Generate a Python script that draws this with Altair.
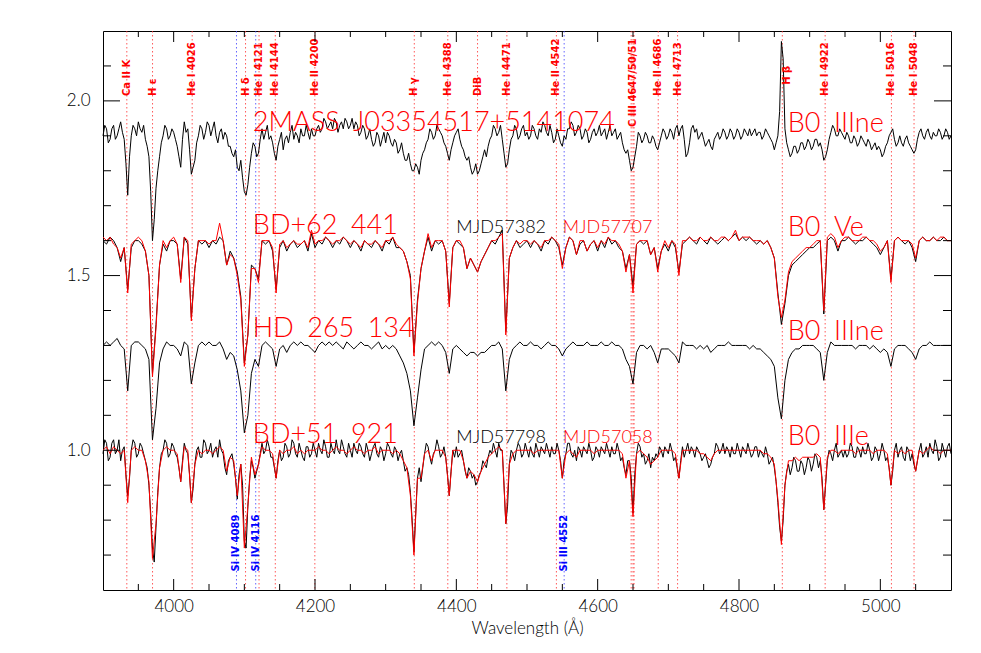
import altair as alt
import pandas as pd

# ---------------- data ----------------
wavelengths = list(range(3900, 5101, 5))
mid_wavelengths = [w + 2.5 for w in wavelengths[:-1]]

flux_2mass = [
 1.90, 1.92, 1.89, 1.93, 1.90, 1.94, 1.89, 1.73, 1.90, 1.92,  # 3900
 1.94, 1.91, 1.89, 1.84, 1.60, 1.75, 1.84, 1.90, 1.92, 1.90,  # 3950
 1.91, 1.87, 1.81, 1.94, 1.92, 1.79, 1.83, 1.90, 1.92, 1.91,  # 4000
 1.93, 1.92, 1.90, 1.91, 1.89, 1.90, 1.87, 1.84, 1.81, 1.83,  # 4050
 1.74, 1.76, 1.85, 1.87, 1.85, 1.92, 1.91, 1.89, 1.88, 1.83,  # 4100
 1.89, 1.86, 1.90, 1.91, 1.89, 1.90, 1.92, 1.90, 1.91, 1.92,  # 4150
 1.90, 1.93, 1.92, 1.94, 1.93, 1.92, 1.94, 1.93, 1.92, 1.94,  # 4200
 1.93, 1.92, 1.93, 1.91, 1.92, 1.90, 1.89, 1.88, 1.90, 1.89,  # 4250
 1.88, 1.90, 1.87, 1.88, 1.86, 1.85, 1.83, 1.82, 1.80, 1.81,  # 4300
 1.83, 1.86, 1.89, 1.91, 1.90, 1.92, 1.90, 1.87, 1.83, 1.88,  # 4350
 1.91, 1.89, 1.86, 1.83, 1.81, 1.80, 1.79, 1.82, 1.86, 1.87,  # 4400
 1.90, 1.92, 1.91, 1.89, 1.81, 1.86, 1.90, 1.92, 1.90, 1.93,  # 4450
 1.91, 1.90, 1.92, 1.89, 1.91, 1.93, 1.90, 1.91, 1.89, 1.90,  # 4500
 1.87, 1.89, 1.92, 1.93, 1.91, 1.92, 1.90, 1.91, 1.89, 1.92,  # 4550
 1.91, 1.90, 1.92, 1.91, 1.90, 1.92, 1.90, 1.88, 1.85, 1.83,  # 4600
 1.81, 1.87, 1.90, 1.89, 1.90, 1.88, 1.89, 1.86, 1.90, 1.91,  # 4650
 1.90, 1.91, 1.92, 1.90, 1.93, 1.84, 1.88, 1.93, 1.92, 1.90,  # 4700
 1.89, 1.88, 1.87, 1.89, 1.91, 1.90, 1.91, 1.90, 1.91, 1.90,  # 4750
 1.91, 1.90, 1.91, 1.92, 1.91, 1.90, 1.91, 1.90, 1.91, 1.89,  # 4800
 1.86, 1.90, 2.17, 1.92, 1.86, 1.85, 1.87, 1.86, 1.88, 1.87,  # 4850
 1.88, 1.87, 1.89, 1.88, 1.83, 1.86, 1.91, 1.92, 1.90, 1.91,  # 4900
 1.89, 1.90, 1.88, 1.89, 1.88, 1.89, 1.87, 1.88, 1.87, 1.86,  # 4950
 1.86, 1.85, 1.88, 1.91, 1.89, 1.88, 1.88, 1.89, 1.88, 1.86,  # 5000
 1.86, 1.91, 1.90, 1.91, 1.90, 1.91, 1.90, 1.91, 1.90, 1.91,  # 5050
 1.90,                                                        # 5100
]
# values read half-way between the samples above (noisy spectrum)
flux_2mass_mid = [
 1.93, 1.88, 1.92, 1.89, 1.92, 1.91, 1.82, 1.84, 1.93, 1.90,  # 3902.5
 1.92, 1.93, 1.87, 1.74, 1.66, 1.80, 1.88, 1.93, 1.89, 1.92,  # 3952.5
 1.89, 1.84, 1.89, 1.91, 1.86, 1.81, 1.88, 1.93, 1.89, 1.94,  # 4002.5
 1.90, 1.94, 1.88, 1.92, 1.91, 1.87, 1.85, 1.86, 1.80, 1.78,  # 4052.5
 1.73, 1.81, 1.88, 1.84, 1.89, 1.89, 1.93, 1.90, 1.85, 1.87,  # 4102.5
 1.91, 1.89, 1.88, 1.93, 1.91, 1.88, 1.90, 1.93, 1.89, 1.90,  # 4152.5
 1.92, 1.91, 1.95, 1.92, 1.94, 1.95, 1.91, 1.94, 1.95, 1.92,  # 4202.5
 1.95, 1.94, 1.90, 1.93, 1.89, 1.92, 1.87, 1.91, 1.87, 1.91,  # 4252.5
 1.91, 1.88, 1.89, 1.85, 1.88, 1.83, 1.85, 1.80, 1.82, 1.79,  # 4302.5
 1.85, 1.88, 1.92, 1.89, 1.93, 1.91, 1.88, 1.85, 1.86, 1.90,  # 4352.5
 1.92, 1.87, 1.84, 1.84, 1.79, 1.82, 1.80, 1.84, 1.84, 1.89,  # 4402.5
 1.93, 1.90, 1.93, 1.85, 1.82, 1.89, 1.93, 1.89, 1.92, 1.90,  # 4452.5
 1.89, 1.93, 1.90, 1.92, 1.94, 1.91, 1.93, 1.88, 1.92, 1.88,  # 4502.5
 1.90, 1.92, 1.94, 1.90, 1.93, 1.89, 1.92, 1.88, 1.91, 1.90,  # 4552.5
 1.93, 1.91, 1.89, 1.93, 1.91, 1.89, 1.91, 1.86, 1.86, 1.80,  # 4602.5
 1.84, 1.91, 1.88, 1.91, 1.88, 1.90, 1.87, 1.88, 1.92, 1.89,  # 4652.5
 1.92, 1.89, 1.93, 1.92, 1.89, 1.85, 1.92, 1.91, 1.89, 1.91,  # 4702.5
 1.87, 1.89, 1.86, 1.90, 1.89, 1.92, 1.89, 1.92, 1.89, 1.92,  # 4752.5
 1.89, 1.92, 1.90, 1.90, 1.92, 1.91, 1.89, 1.92, 1.90, 1.88,  # 4802.5
 1.88, 1.97, 2.12, 1.88, 1.84, 1.87, 1.85, 1.88, 1.86, 1.89,  # 4852.5
 1.86, 1.89, 1.87, 1.86, 1.84, 1.89, 1.93, 1.90, 1.92, 1.90,  # 4902.5
 1.91, 1.88, 1.90, 1.87, 1.90, 1.88, 1.89, 1.86, 1.88, 1.87,  # 4952.5
 1.84, 1.87, 1.90, 1.92, 1.87, 1.90, 1.87, 1.90, 1.87, 1.85,  # 5002.5
 1.89, 1.92, 1.89, 1.92, 1.89, 1.90, 1.92, 1.89, 1.92, 1.89,  # 5052.5
]

flux_bd62_mjd57382 = [
 1.60, 1.59, 1.61, 1.60, 1.58, 1.54, 1.58, 1.46, 1.58, 1.60,  # 3900
 1.60, 1.59, 1.57, 1.50, 1.22, 1.36, 1.53, 1.59, 1.57, 1.60,  # 3950
 1.60, 1.59, 1.49, 1.61, 1.59, 1.38, 1.52, 1.60, 1.59, 1.60,  # 4000
 1.58, 1.60, 1.59, 1.61, 1.60, 1.53, 1.57, 1.55, 1.51, 1.44,  # 4050
 1.25, 1.33, 1.53, 1.52, 1.49, 1.60, 1.59, 1.60, 1.57, 1.46,  # 4100
 1.58, 1.60, 1.57, 1.59, 1.60, 1.58, 1.59, 1.60, 1.57, 1.62,  # 4150
 1.58, 1.60, 1.59, 1.61, 1.60, 1.58, 1.60, 1.59, 1.61, 1.60,  # 4200
 1.58, 1.60, 1.59, 1.57, 1.60, 1.59, 1.58, 1.60, 1.59, 1.57,  # 4250
 1.60, 1.59, 1.61, 1.58, 1.58, 1.57, 1.54, 1.50, 1.28, 1.43,  # 4300
 1.52, 1.57, 1.61, 1.57, 1.60, 1.59, 1.60, 1.57, 1.42, 1.58,  # 4350
 1.60, 1.59, 1.58, 1.52, 1.55, 1.53, 1.51, 1.54, 1.56, 1.58,  # 4400
 1.60, 1.59, 1.61, 1.63, 1.34, 1.55, 1.58, 1.60, 1.58, 1.59,  # 4450
 1.60, 1.58, 1.60, 1.59, 1.57, 1.60, 1.59, 1.61, 1.60, 1.58,  # 4500
 1.53, 1.58, 1.61, 1.60, 1.56, 1.59, 1.60, 1.57, 1.59, 1.60,  # 4550
 1.57, 1.60, 1.58, 1.61, 1.59, 1.60, 1.58, 1.57, 1.52, 1.56,  # 4600
 1.47, 1.59, 1.60, 1.59, 1.60, 1.56, 1.58, 1.52, 1.57, 1.59,  # 4650
 1.57, 1.60, 1.58, 1.51, 1.59, 1.60, 1.61, 1.60, 1.59, 1.61,  # 4700
 1.60, 1.59, 1.61, 1.60, 1.59, 1.60, 1.61, 1.60, 1.61, 1.62,  # 4750
 1.60, 1.61, 1.60, 1.61, 1.60, 1.59, 1.60, 1.59, 1.60, 1.58,  # 4800
 1.55, 1.45, 1.36, 1.42, 1.50, 1.53, 1.54, 1.55, 1.56, 1.57,  # 4850
 1.58, 1.58, 1.59, 1.60, 1.39, 1.60, 1.61, 1.60, 1.57, 1.60,  # 4900
 1.60, 1.61, 1.60, 1.59, 1.60, 1.60, 1.61, 1.60, 1.59, 1.58,  # 4950
 1.56, 1.58, 1.60, 1.49, 1.60, 1.61, 1.60, 1.59, 1.60, 1.58,  # 5000
 1.54, 1.60, 1.61, 1.60, 1.60, 1.61, 1.60, 1.60, 1.61, 1.60,  # 5050
 1.60,                                                        # 5100
]

flux_bd62_mjd57707 = [
 1.61, 1.60, 1.61, 1.59, 1.58, 1.55, 1.58, 1.45, 1.59, 1.60,  # 3900
 1.61, 1.60, 1.57, 1.50, 1.21, 1.35, 1.53, 1.60, 1.58, 1.60,  # 3950
 1.61, 1.59, 1.48, 1.61, 1.60, 1.37, 1.52, 1.60, 1.60, 1.60,  # 4000
 1.59, 1.60, 1.60, 1.65, 1.60, 1.53, 1.56, 1.55, 1.50, 1.43,  # 4050
 1.24, 1.33, 1.52, 1.52, 1.48, 1.60, 1.60, 1.60, 1.58, 1.45,  # 4100
 1.59, 1.60, 1.58, 1.59, 1.60, 1.59, 1.59, 1.60, 1.58, 1.63,  # 4150
 1.59, 1.60, 1.60, 1.61, 1.60, 1.59, 1.60, 1.60, 1.61, 1.60,  # 4200
 1.59, 1.60, 1.59, 1.58, 1.60, 1.59, 1.59, 1.60, 1.59, 1.58,  # 4250
 1.60, 1.60, 1.61, 1.59, 1.58, 1.57, 1.54, 1.49, 1.27, 1.42,  # 4300
 1.52, 1.57, 1.62, 1.58, 1.60, 1.60, 1.60, 1.57, 1.41, 1.58,  # 4350
 1.60, 1.60, 1.58, 1.52, 1.55, 1.53, 1.51, 1.54, 1.56, 1.58,  # 4400
 1.60, 1.60, 1.61, 1.62, 1.33, 1.55, 1.58, 1.60, 1.59, 1.60,  # 4450
 1.60, 1.59, 1.60, 1.59, 1.58, 1.60, 1.60, 1.61, 1.60, 1.59,  # 4500
 1.52, 1.58, 1.61, 1.60, 1.56, 1.60, 1.60, 1.57, 1.59, 1.60,  # 4550
 1.58, 1.60, 1.59, 1.61, 1.60, 1.60, 1.59, 1.57, 1.51, 1.56,  # 4600
 1.45, 1.59, 1.60, 1.60, 1.60, 1.56, 1.58, 1.51, 1.57, 1.60,  # 4650
 1.58, 1.60, 1.59, 1.50, 1.60, 1.60, 1.61, 1.60, 1.60, 1.61,  # 4700
 1.60, 1.60, 1.61, 1.60, 1.60, 1.61, 1.61, 1.60, 1.61, 1.63,  # 4750
 1.60, 1.61, 1.61, 1.61, 1.60, 1.60, 1.60, 1.59, 1.60, 1.58,  # 4800
 1.55, 1.44, 1.38, 1.43, 1.51, 1.54, 1.55, 1.56, 1.57, 1.58,  # 4850
 1.58, 1.59, 1.60, 1.60, 1.40, 1.61, 1.62, 1.61, 1.58, 1.60,  # 4900
 1.61, 1.61, 1.60, 1.60, 1.60, 1.61, 1.61, 1.60, 1.60, 1.59,  # 4950
 1.57, 1.58, 1.60, 1.48, 1.60, 1.61, 1.60, 1.60, 1.60, 1.59,  # 5000
 1.55, 1.60, 1.61, 1.60, 1.60, 1.61, 1.60, 1.61, 1.61, 1.60,  # 5050
 1.60,                                                        # 5100
]

flux_hd265134 = [
 1.30, 1.31, 1.30, 1.31, 1.32, 1.30, 1.29, 1.17, 1.30, 1.31,  # 3900
 1.31, 1.30, 1.29, 1.26, 1.03, 1.12, 1.25, 1.29, 1.31, 1.30,  # 3950
 1.30, 1.29, 1.27, 1.31, 1.30, 1.19, 1.25, 1.30, 1.31, 1.30,  # 4000
 1.31, 1.30, 1.30, 1.31, 1.29, 1.26, 1.28, 1.27, 1.23, 1.17,  # 4050
 1.05, 1.10, 1.22, 1.26, 1.24, 1.30, 1.31, 1.30, 1.29, 1.24,  # 4100
 1.29, 1.30, 1.28, 1.30, 1.31, 1.30, 1.31, 1.30, 1.30, 1.29,  # 4150
 1.28, 1.30, 1.31, 1.30, 1.31, 1.30, 1.31, 1.30, 1.29, 1.31,  # 4200
 1.30, 1.29, 1.30, 1.31, 1.30, 1.30, 1.29, 1.30, 1.31, 1.29,  # 4250
 1.30, 1.29, 1.30, 1.29, 1.27, 1.25, 1.22, 1.17, 1.07, 1.15,  # 4300
 1.23, 1.29, 1.30, 1.31, 1.30, 1.31, 1.30, 1.28, 1.22, 1.29,  # 4350
 1.30, 1.29, 1.28, 1.27, 1.28, 1.28, 1.27, 1.28, 1.28, 1.29,  # 4400
 1.30, 1.30, 1.31, 1.29, 1.17, 1.26, 1.29, 1.30, 1.31, 1.30,  # 4450
 1.30, 1.31, 1.30, 1.30, 1.29, 1.30, 1.31, 1.30, 1.30, 1.29,  # 4500
 1.27, 1.29, 1.30, 1.31, 1.30, 1.30, 1.30, 1.31, 1.30, 1.30,  # 4550
 1.30, 1.31, 1.30, 1.30, 1.31, 1.30, 1.30, 1.29, 1.26, 1.24,  # 4600
 1.19, 1.28, 1.30, 1.30, 1.29, 1.30, 1.28, 1.25, 1.29, 1.29,  # 4650
 1.29, 1.28, 1.27, 1.25, 1.31, 1.30, 1.30, 1.30, 1.29, 1.30,  # 4700
 1.29, 1.30, 1.28, 1.29, 1.30, 1.30, 1.30, 1.31, 1.30, 1.30,  # 4750
 1.30, 1.30, 1.30, 1.29, 1.30, 1.29, 1.29, 1.28, 1.27, 1.26,  # 4800
 1.24, 1.15, 1.09, 1.20, 1.26, 1.28, 1.29, 1.29, 1.30, 1.30,  # 4850
 1.30, 1.30, 1.29, 1.28, 1.20, 1.28, 1.31, 1.30, 1.30, 1.30,  # 4900
 1.30, 1.30, 1.30, 1.29, 1.30, 1.30, 1.30, 1.29, 1.30, 1.29,  # 4950
 1.28, 1.29, 1.28, 1.24, 1.29, 1.30, 1.30, 1.30, 1.29, 1.28,  # 5000
 1.26, 1.29, 1.30, 1.30, 1.31, 1.30, 1.30, 1.30, 1.30, 1.30,  # 5050
 1.30,                                                        # 5100
]

flux_bd51_mjd57798 = [
 0.99, 1.02, 0.98, 1.03, 1.00, 0.97, 1.01, 0.87, 1.00, 1.02,  # 3900
 0.99, 1.01, 0.97, 0.90, 0.72, 0.78, 0.95, 1.00, 1.02, 0.99,  # 3950
 1.01, 0.98, 0.91, 1.02, 0.99, 0.85, 0.96, 1.01, 0.98, 1.02,  # 4000
 1.00, 0.98, 1.01, 1.03, 0.99, 0.93, 0.98, 0.96, 0.86, 0.96,  # 4050
 0.74, 0.84, 0.97, 0.92, 0.96, 1.02, 1.00, 1.01, 0.98, 0.92,  # 4100
 1.00, 0.98, 1.01, 0.99, 1.02, 0.98, 1.00, 0.97, 1.01, 0.99,  # 4150
 1.00, 1.02, 0.99, 1.01, 0.98, 1.00, 1.03, 0.99, 1.01, 0.98,  # 4200
 1.00, 1.02, 0.99, 1.01, 0.98, 1.00, 0.99, 1.02, 0.98, 1.00,  # 4250
 0.99, 1.01, 0.98, 1.00, 0.99, 0.97, 0.95, 0.88, 0.71, 0.92,  # 4300
 0.91, 0.99, 1.01, 0.96, 1.00, 1.01, 0.99, 0.98, 0.87, 1.00,  # 4350
 1.01, 0.99, 0.97, 0.92, 0.94, 0.93, 0.91, 0.94, 0.96, 0.98,  # 4400
 0.99, 1.00, 1.02, 1.00, 0.79, 0.96, 0.99, 1.00, 1.01, 0.99,  # 4450
 1.00, 1.01, 0.98, 1.00, 1.01, 0.99, 1.00, 1.01, 0.99, 1.00,  # 4500
 0.92, 0.99, 1.02, 0.98, 0.97, 1.00, 1.01, 0.99, 1.00, 0.98,  # 4550
 1.00, 1.01, 0.99, 1.00, 1.01, 0.99, 1.00, 0.98, 0.93, 0.97,  # 4600
 0.82, 0.99, 1.01, 0.99, 0.97, 0.95, 0.97, 0.98, 1.00, 1.01,  # 4650
 0.99, 1.00, 0.98, 0.92, 1.01, 1.00, 0.99, 1.00, 1.01, 0.99,  # 4700
 0.98, 0.97, 0.96, 0.99, 1.01, 1.00, 0.99, 1.00, 1.01, 0.99,  # 4750
 1.00, 1.01, 0.99, 1.00, 0.99, 1.01, 1.00, 0.98, 0.99, 0.97,  # 4800
 0.95, 0.85, 0.74, 0.90, 0.96, 0.95, 0.97, 0.94, 0.96, 0.95,  # 4850
 0.97, 0.96, 0.98, 0.97, 0.83, 0.97, 0.99, 1.00, 0.98, 1.00,  # 4900
 1.00, 0.99, 1.01, 0.98, 1.00, 1.01, 0.99, 1.00, 0.98, 1.00,  # 4950
 0.99, 1.00, 0.98, 0.90, 1.00, 0.98, 1.01, 0.97, 1.00, 0.99,  # 5000
 0.94, 1.00, 0.98, 1.01, 1.02, 0.99, 1.01, 0.98, 1.00, 1.01,  # 5050
 0.99,                                                        # 5100
]
flux_bd51_mjd57798_mid = [
 1.03, 0.97, 1.02, 0.99, 1.03, 1.00, 0.93, 0.92, 1.03, 0.98,  # 3902.5
 1.02, 0.99, 0.95, 0.82, 0.68, 0.88, 0.99, 1.03, 0.98, 1.02,  # 3952.5
 0.99, 0.95, 0.97, 1.00, 0.93, 0.89, 1.00, 0.98, 1.03, 0.99,  # 4002.5
 1.02, 1.00, 0.98, 1.00, 0.95, 0.97, 0.99, 0.92, 0.93, 0.90,  # 4052.5
 0.72, 0.92, 0.95, 0.94, 0.99, 0.99, 1.03, 0.98, 0.95, 0.97,  # 4102.5
 0.97, 1.02, 0.98, 1.03, 0.99, 1.02, 0.98, 1.01, 0.98, 1.02,  # 4152.5
 0.98, 1.00, 1.03, 0.98, 1.02, 0.99, 1.00, 1.03, 0.99, 1.02,  # 4202.5
 0.98, 1.00, 1.02, 0.99, 1.02, 0.97, 1.01, 0.99, 1.01, 0.97,  # 4252.5
 1.02, 0.99, 1.01, 0.97, 1.00, 0.94, 0.93, 0.80, 0.82, 0.95,  # 4302.5
 0.95, 1.02, 0.98, 0.99, 1.03, 0.98, 1.01, 0.93, 0.94, 0.98,  # 4352.5
 0.98, 1.00, 0.94, 0.95, 0.92, 0.90, 0.93, 0.97, 0.95, 1.00,  # 4402.5
 1.02, 0.98, 1.00, 0.90, 0.84, 1.00, 0.97, 1.02, 0.98, 1.02,  # 4452.5
 0.98, 0.99, 1.02, 0.98, 1.00, 1.02, 0.98, 0.99, 1.02, 0.97,  # 4502.5
 0.97, 1.02, 0.99, 1.00, 1.01, 0.98, 1.00, 1.02, 0.97, 1.01,  # 4552.5
 0.98, 1.00, 1.02, 0.98, 0.99, 1.02, 0.97, 0.95, 0.97, 0.92,  # 4602.5
 0.93, 1.02, 0.98, 0.96, 0.99, 0.98, 0.99, 1.01, 0.98, 1.00,  # 4652.5
 1.02, 0.97, 0.95, 0.97, 0.98, 1.02, 1.01, 0.98, 1.00, 0.97,  # 4702.5
 0.99, 0.95, 0.98, 1.02, 0.99, 1.02, 1.01, 0.98, 0.99, 1.02,  # 4752.5
 0.98, 1.00, 1.02, 0.98, 1.01, 0.98, 0.99, 1.01, 0.96, 0.98,  # 4802.5
 0.91, 0.78, 0.80, 0.94, 0.93, 0.98, 0.94, 0.97, 0.93, 0.98,  # 4852.5
 0.94, 0.99, 0.95, 0.92, 0.90, 1.00, 0.97, 1.02, 0.99, 0.98,  # 4902.5
 0.98, 1.02, 0.98, 1.01, 0.98, 0.99, 1.02, 0.97, 1.01, 0.97,  # 4952.5
 1.02, 0.97, 0.95, 0.94, 1.02, 1.00, 0.98, 1.01, 0.97, 0.96,  # 5002.5
 0.97, 1.02, 0.99, 0.98, 1.00, 1.03, 0.97, 1.02, 0.98, 1.02,  # 5052.5
]

flux_bd51_mjd57058 = [
 1.00, 1.01, 0.99, 1.01, 1.00, 0.99, 1.00, 0.85, 1.00, 1.01,  # 3900
 1.00, 1.00, 0.97, 0.91, 0.69, 0.79, 0.95, 1.00, 1.01, 1.00,  # 3950
 1.00, 0.99, 0.91, 1.01, 1.00, 0.85, 0.96, 1.00, 0.99, 1.00,  # 4000
 1.00, 0.99, 1.00, 1.01, 1.00, 0.94, 0.98, 0.97, 0.87, 0.96,  # 4050
 0.72, 0.84, 0.98, 0.93, 0.96, 1.01, 1.00, 1.00, 0.99, 0.92,  # 4100
 1.00, 0.99, 1.00, 1.00, 1.01, 0.99, 1.00, 0.99, 1.00, 1.00,  # 4150
 1.00, 1.01, 1.00, 1.00, 0.99, 1.00, 1.01, 1.00, 1.00, 0.99,  # 4200
 1.00, 1.01, 1.00, 1.00, 0.99, 1.00, 1.00, 1.01, 0.99, 1.00,  # 4250
 1.00, 1.00, 0.99, 1.00, 0.99, 0.97, 0.95, 0.87, 0.70, 0.92,  # 4300
 0.92, 0.99, 1.00, 0.97, 1.00, 1.00, 1.00, 0.98, 0.87, 1.00,  # 4350
 1.00, 1.00, 0.97, 0.92, 0.94, 0.93, 0.91, 0.94, 0.96, 0.98,  # 4400
 0.99, 1.00, 1.01, 1.00, 0.79, 0.96, 0.99, 1.00, 1.00, 1.00,  # 4450
 1.00, 1.00, 0.99, 1.00, 1.00, 1.00, 1.00, 1.00, 1.00, 1.00,  # 4500
 0.92, 0.99, 1.00, 0.99, 0.98, 1.00, 1.00, 1.00, 1.00, 0.99,  # 4550
 1.00, 1.00, 1.00, 1.00, 1.00, 1.00, 1.00, 0.99, 0.92, 0.97,  # 4600
 0.81, 0.99, 1.00, 0.99, 0.98, 0.96, 0.97, 0.98, 1.00, 1.00,  # 4650
 1.00, 1.00, 0.99, 0.92, 1.00, 1.00, 1.00, 1.00, 1.00, 0.99,  # 4700
 0.99, 0.98, 0.97, 0.99, 1.00, 1.00, 1.00, 1.00, 1.00, 1.00,  # 4750
 1.00, 1.00, 1.00, 1.00, 1.00, 1.00, 1.00, 0.99, 0.99, 0.98,  # 4800
 0.96, 0.86, 0.73, 0.90, 0.97, 0.97, 0.98, 0.97, 0.98, 0.98,  # 4850
 0.98, 0.98, 0.99, 0.98, 0.83, 0.98, 1.00, 1.00, 0.99, 1.00,  # 4900
 1.00, 1.00, 1.00, 0.99, 1.00, 1.00, 1.00, 1.00, 0.99, 1.00,  # 4950
 1.00, 1.00, 0.99, 0.90, 1.00, 0.99, 1.00, 0.99, 1.00, 1.00,  # 5000
 0.94, 1.00, 0.99, 1.00, 1.01, 1.00, 1.00, 0.99, 1.00, 1.00,  # 5050
 1.00,                                                        # 5100
]

# spectral line identifications (top, red) and Si lines (bottom, blue)
line_wl = [3933.7, 3970.1, 4026.2, 4101.7, 4120.8, 4143.8, 4199.8, 4340.5,
           4387.9, 4430.0, 4471.5, 4541.6, 4647.4, 4650.0, 4651.5, 4685.7,
           4713.1, 4861.3, 4921.9, 5015.7, 5047.7]
si_wl = [4088.9, 4116.1, 4552.6]

top_label_text = ["Ca II K", "H \u03b5", "He I 4026", "H \u03b4", "He I 4121", "He I 4144",
                  "He II 4200", "H \u03b3", "He I 4388", "DiB", "He I 4471", "He II 4542",
                  "C III 4647/50/51", "He II 4686", "He I 4713", "H \u03b2", "He I 4922",
                  "He I 5016", "He I 5048"]
top_label_wl = [3933.7, 3970.1, 4026.2, 4101.7, 4120.8, 4143.8, 4199.8, 4340.5,
                4387.9, 4430.0, 4471.5, 4541.6, 4650.0, 4685.7, 4713.1, 4868.0,
                4921.9, 5015.7, 5047.7]
top_label_y = [2.014] * 12 + [1.925] + [2.014, 2.014, 2.046, 2.014, 2.014, 2.014]

si_label_text = ["Si IV 4089", "Si IV 4116", "Si III 4552"]
si_label_y = [0.653, 0.653, 0.653]

star_text = ["2MASS\u2002J03354517+5141074", "BD+62\u2002441", "HD\u2002265\u2002134", "BD+51\u2002921",
             "B0\u2002IIIne", "B0\u2002Ve", "B0\u2002IIIne", "B0\u2002IIIe"]
star_wl = [4112, 4112, 4112, 4112, 4869, 4869, 4869, 4869]
star_y = [1.914, 1.619, 1.324, 1.020, 1.912, 1.612, 1.316, 1.014]

mjd_text = ["MJD57382", "MJD57707", "MJD57798", "MJD57058"]
mjd_wl = [4400, 4550.5, 4400, 4551]
mjd_y = [1.622, 1.622, 1.020, 1.020]
mjd_color = ["black", "red", "black", "red"]

x_major = [4000, 4200, 4400, 4600, 4800, 5000]
x_minor = [3950, 4050, 4100, 4150, 4250, 4300, 4350, 4450, 4500, 4550,
           4650, 4700, 4750, 4850, 4900, 4950, 5050]
y_major = [1.0, 1.5, 2.0]
y_minor = [0.7, 0.8, 0.9, 1.1, 1.2, 1.3, 1.4, 1.6, 1.7, 1.8, 1.9, 2.1]

# ---------------- tables ----------------
for s in (flux_2mass, flux_bd62_mjd57382, flux_bd62_mjd57707, flux_hd265134,
          flux_bd51_mjd57798, flux_bd51_mjd57058):
    assert len(s) == len(wavelengths), len(s)
for s in (flux_2mass_mid, flux_bd51_mjd57798_mid):
    assert len(s) == len(mid_wavelengths), len(s)


def pairs(vals, mids=None):
    pts = list(zip(wavelengths, vals))
    if mids is not None:
        pts += list(zip(mid_wavelengths, mids))
    return sorted(pts)


black_series = {"2mass": pairs(flux_2mass, flux_2mass_mid),
                "bd62_57382": pairs(flux_bd62_mjd57382),
                "hd265134": pairs(flux_hd265134),
                "bd51_57798": pairs(flux_bd51_mjd57798, flux_bd51_mjd57798_mid)}
red_series = {"bd62_57707": pairs(flux_bd62_mjd57707),
              "bd51_57058": pairs(flux_bd51_mjd57058)}


def long_df(d):
    rows = []
    for name, pts in d.items():
        for i, (w, f) in enumerate(pts):
            rows.append({"series": name, "wl": w, "flux": f, "idx": i})
    return pd.DataFrame(rows)


df_black = long_df(black_series)
df_red = long_df(red_series)

df_lines = pd.DataFrame({"wl": line_wl + si_wl,
                         "color": ["#ff3030"] * len(line_wl) + ["#4040ff"] * len(si_wl)})
df_top = pd.DataFrame({"wl": top_label_wl, "y": top_label_y, "label": top_label_text})
df_si = pd.DataFrame({"wl": si_wl, "y": si_label_y, "label": si_label_text})
df_star = pd.DataFrame({"wl": star_wl, "y": star_y, "label": star_text})
df_mjd = pd.DataFrame({"wl": mjd_wl, "y": mjd_y, "label": mjd_text, "color": mjd_color})
df_xmaj = pd.DataFrame({"wl": x_major})
df_xmin = pd.DataFrame({"wl": x_minor})
df_ymaj = pd.DataFrame({"flux": y_major})
df_ymin = pd.DataFrame({"flux": y_minor})

# ---------------- chart ----------------
W, H = 848, 559
FONT = "Lato"
xs = alt.Scale(domain=[3900, 5100], nice=False, zero=False)
ys = alt.Scale(domain=[0.6, 2.2], nice=False, zero=False)
xaxis = alt.Axis(values=x_major, format="d", title="Wavelength (\u00c5)", ticks=False,
                 domain=False, grid=False, labelFontSize=17, labelPadding=8,
                 titleFontSize=17, titlePadding=6, titleFontWeight=300,
                 labelFont=FONT, titleFont=FONT, labelFontWeight=300,
                 labelColor="black", titleColor="black")
yaxis = alt.Axis(values=y_major, format=".1f", title=None, ticks=False, domain=False,
                 grid=False, labelFontSize=17, labelPadding=13, labelFont=FONT,
                 labelFontWeight=300, labelColor="black")

X = lambda f="wl": alt.X(f"{f}:Q", scale=xs, axis=xaxis)
Y = lambda f="flux": alt.Y(f"{f}:Q", scale=ys, axis=yaxis)

vlines = alt.Chart(df_lines).mark_rule(strokeDash=[1.5, 2.5], strokeWidth=1, opacity=0.8).encode(
    x=X(), y=alt.value(0), y2=alt.value(H), color=alt.Color("color:N", scale=None))

black = alt.Chart(df_black).mark_line(color="black", strokeWidth=1).encode(
    x=X(), y=Y(), detail="series:N", order="idx:Q")
red = alt.Chart(df_red).mark_line(color="red", strokeWidth=1).encode(
    x=X(), y=Y(), detail="series:N", order="idx:Q")

top_labels = alt.Chart(df_top).mark_text(angle=270, align="left", baseline="middle",
                                         font="DejaVu Sans", fontWeight="bold",
                                         fontSize=10, color="red").encode(
    x=X(), y=Y("y"), text="label:N")
si_labels = alt.Chart(df_si).mark_text(angle=270, align="left", baseline="middle",
                                       font="DejaVu Sans", fontWeight="bold",
                                       fontSize=10, color="blue").encode(
    x=X(), y=Y("y"), text="label:N")
stars = alt.Chart(df_star).mark_text(align="left", baseline="alphabetic", font=FONT,
                                     fontWeight=300, fontSize=27, color="red").encode(
    x=X(), y=Y("y"), text="label:N")
mjds = alt.Chart(df_mjd).mark_text(align="left", baseline="alphabetic", font=FONT,
                                   fontWeight=300, fontSize=18).encode(
    x=X(), y=Y("y"), text="label:N", color=alt.Color("color:N", scale=None))

tk = dict(color="black", strokeWidth=1)
xt = [
    alt.Chart(df_xmaj).mark_rule(**tk).encode(x=X(), y=alt.value(H), y2=alt.value(H - 11)),
    alt.Chart(df_xmaj).mark_rule(**tk).encode(x=X(), y=alt.value(0), y2=alt.value(11)),
    alt.Chart(df_xmin).mark_rule(**tk).encode(x=X(), y=alt.value(H), y2=alt.value(H - 6)),
    alt.Chart(df_xmin).mark_rule(**tk).encode(x=X(), y=alt.value(0), y2=alt.value(6)),
    alt.Chart(df_ymaj).mark_rule(**tk).encode(y=Y(), x=alt.value(0), x2=alt.value(17)),
    alt.Chart(df_ymaj).mark_rule(**tk).encode(y=Y(), x=alt.value(W), x2=alt.value(W - 17)),
    alt.Chart(df_ymin).mark_rule(**tk).encode(y=Y(), x=alt.value(0), x2=alt.value(8)),
    alt.Chart(df_ymin).mark_rule(**tk).encode(y=Y(), x=alt.value(W), x2=alt.value(W - 8)),
]

chart = alt.layer(vlines, black, red, top_labels, si_labels, stars, mjds, *xt).properties(
    width=W, height=H,
    autosize=alt.AutoSizeParams(type="none"),
    padding={"left": 95, "top": 23, "right": 22, "bottom": 55},
    background="white",
).configure_view(stroke="black", strokeWidth=1)

chart.save("out.html", embed_options={"renderer": "svg", "actions": False})
